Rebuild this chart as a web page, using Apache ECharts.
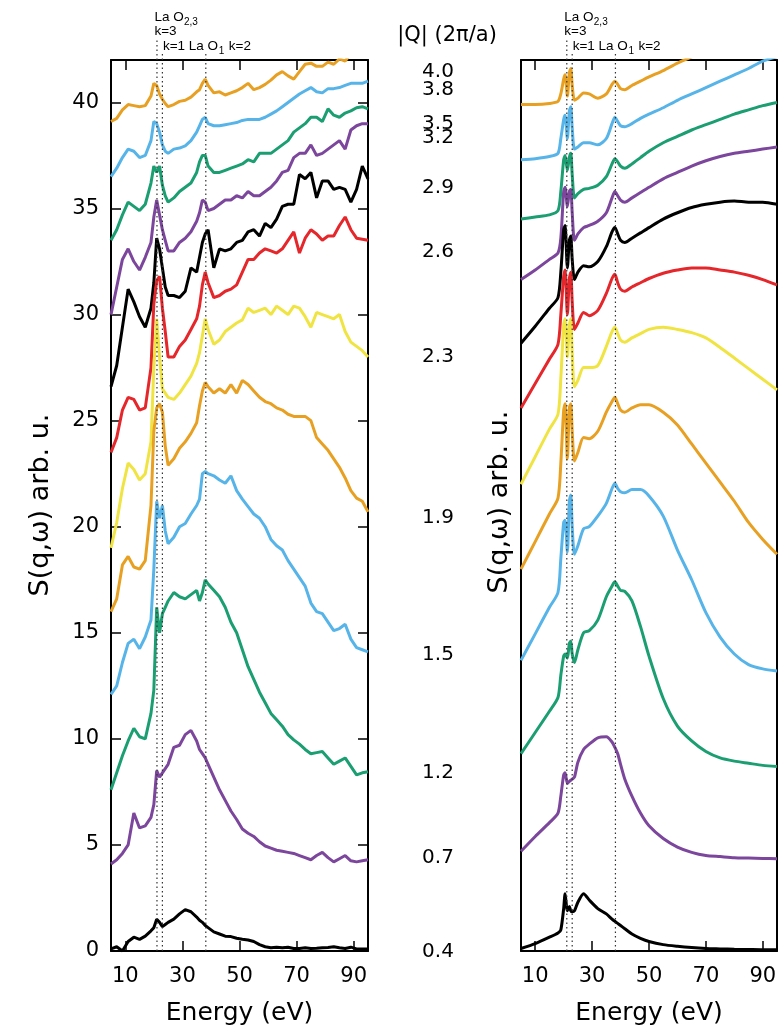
<html>
<head>
<meta charset="utf-8" />
<script src="https://cdn.jsdelivr.net/npm/echarts@6/dist/echarts.min.js"></script>
<style>
  body { margin: 0; background: #fff; }
  #main { width: 782px; height: 1032px; }
</style>
</head>
<body>
<div id="main"></div>
<script>
// ---- data: measured spectra (left) ----
var expE = [5,7,9,11,13,15,17,19,20,21,22,23,24,25,27,29,31,33,35,36,37,38,39,41,43,45,47,49,51,53,55,57,59,61,63,65,67,69,71,73,75,77,79,81,83,85,87,89,91,93,95];
var exp40 = [39.1,39.25,39.65,39.9,39.85,39.8,39.85,40.3,40.9,40.8,40.4,40.15,39.95,39.8,39.9,40.05,40.1,40.25,40.5,40.6,40.9,41.1,40.8,40.45,40.5,40.35,40.45,40.55,40.7,40.9,40.6,40.7,40.85,41.05,41.3,41.45,41.25,41.1,41.45,41.8,41.85,41.7,41.7,41.9,41.8,42.05,41.95,42.3,42.6,42.9,43.2];
var exp38 = [36.5,36.9,37.4,37.8,37.7,37.4,37.5,38.2,39.1,39.0,38.6,38.0,37.7,37.6,37.8,37.85,37.95,38.2,38.6,38.9,39.2,39.3,39.0,38.9,38.9,38.95,39.0,39.05,39.15,39.2,39.2,39.2,39.3,39.45,39.6,39.8,40.0,40.2,40.4,40.55,40.7,40.5,40.45,40.65,40.65,40.7,40.8,40.9,40.9,40.9,41.0];
var exp35 = [33.5,34.0,34.7,35.3,35.1,34.9,35.2,36.2,37.0,36.7,37.0,36.1,35.6,35.3,35.5,35.8,36.0,36.2,36.7,37.2,37.5,37.5,37.0,36.7,36.7,36.8,36.9,37.0,37.1,37.3,37.2,37.6,37.6,37.6,37.8,38.0,38.2,38.6,38.8,39.0,39.3,39.3,39.1,39.7,39.4,39.3,39.5,39.6,39.75,39.8,39.7];
var exp32 = [30.0,31.3,32.6,33.1,32.5,32.1,32.7,33.4,34.6,35.4,34.7,34.0,33.5,33.0,33.0,33.4,33.6,33.9,34.4,34.8,35.4,35.3,34.9,35.0,35.2,35.4,35.4,35.6,35.5,35.8,35.6,35.6,35.8,36.0,36.3,36.7,36.8,37.4,37.6,37.6,38.0,37.5,37.6,37.8,38.0,38.2,37.8,38.7,38.9,39.0,39.0];
var exp29 = [26.6,27.6,29.4,31.2,30.6,29.9,29.4,30.3,31.5,33.6,33.1,32.2,31.3,30.9,30.9,30.8,31.1,32.2,32.0,32.7,33.4,33.8,34.0,32.2,33.1,33.0,33.1,33.4,33.5,33.9,34.0,33.7,34.3,34.1,34.5,35.1,35.2,35.2,36.6,36.4,36.7,35.5,36.3,36.3,35.9,36.0,35.9,35.3,35.9,37.0,36.4];
var exp26 = [23.5,24.2,25.5,26.1,26.0,25.5,25.6,27.5,30.5,31.6,31.8,30.3,29.2,28.0,28.0,28.5,28.8,29.3,29.8,30.4,31.4,32.0,31.5,30.8,30.9,31.1,31.2,31.4,32.0,32.6,32.6,32.9,33.1,33.0,32.9,33.1,33.5,33.9,32.9,33.6,34.0,33.8,33.5,33.7,33.7,34.2,34.6,34.0,33.6,33.55,33.5];
var exp23 = [19.0,20.2,21.8,23.0,22.7,22.2,22.5,24.0,27.5,29.8,28.0,26.5,26.3,26.1,26.0,26.3,26.7,27.1,27.7,28.2,29.0,29.8,29.3,28.6,28.8,29.2,29.4,29.6,29.75,30.3,30.1,30.2,30.3,30.0,30.4,30.2,30.0,30.4,30.3,29.9,29.4,30.1,30.0,29.9,29.8,30.0,29.2,28.7,28.5,28.3,28.0];
var exp19 = [16.0,16.6,18.2,18.6,18.1,18.0,18.4,21.0,24.5,25.6,25.8,25.4,23.8,22.9,23.2,23.7,24.0,24.4,24.9,25.7,26.4,26.8,26.6,26.3,26.5,26.3,26.7,26.3,26.9,26.7,26.4,26.1,25.9,25.8,25.6,25.5,25.3,25.2,25.2,25.2,25.0,24.2,23.9,23.6,23.2,22.8,22.3,21.7,21.35,21.2,20.7];
var exp15 = [12.1,12.5,13.6,14.5,14.7,14.25,14.8,15.6,18.0,21.2,20.4,21.0,19.8,19.2,19.5,20.0,20.15,20.6,21.0,21.3,22.5,22.6,22.5,22.4,22.2,22.05,22.4,21.7,21.3,20.95,20.6,20.4,20.0,19.4,19.1,18.9,18.4,18.0,17.6,17.2,16.4,16.0,15.9,15.5,15.1,15.2,15.4,14.7,14.3,14.2,14.1];
var exp12 = [7.6,8.4,9.2,9.9,10.5,10.1,10.0,11.2,12.3,16.2,15.0,15.9,16.2,16.5,16.9,16.7,16.6,16.8,17.0,16.5,16.9,17.5,17.3,17.0,16.7,16.2,15.5,15.0,14.2,13.4,12.8,12.2,11.7,11.2,10.9,10.6,10.2,9.95,9.75,9.5,9.3,9.35,9.4,9.1,8.8,8.95,9.1,8.7,8.3,8.4,8.45];
var exp07 = [4.1,4.3,4.6,5.0,6.5,5.8,5.9,6.3,6.9,8.5,8.2,8.4,8.6,8.8,9.6,9.7,10.2,10.4,9.9,9.5,9.3,9.1,8.8,8.2,7.6,7.1,6.6,6.2,5.75,5.55,5.4,5.15,4.95,4.85,4.75,4.7,4.65,4.6,4.5,4.4,4.3,4.5,4.65,4.4,4.2,4.35,4.5,4.25,4.2,4.25,4.3];
var exp04 = [0.1,0.2,0.0,0.45,0.65,0.55,0.7,0.95,1.1,1.5,1.35,1.15,1.25,1.35,1.5,1.75,1.95,1.85,1.6,1.45,1.35,1.2,1.1,0.9,0.8,0.7,0.68,0.6,0.55,0.52,0.45,0.3,0.2,0.15,0.18,0.15,0.18,0.12,0.12,0.15,0.12,0.13,0.15,0.17,0.2,0.15,0.12,0.18,0.1,0.1,0.1];

// ---- data: calculated spectra (right) ----
var calcE = [5,10,15,18,19,20,20.5,21.3,22,22.5,23,23.8,25,27,29,32,35,37,38,39,40,41.5,44,47,50,55,60,65,70,75,80,85,90,95];
var calc40 = [39.9,39.9,39.95,40.05,40.4,41.1,41.3,40.3,41.4,41.6,40.8,40.1,40.2,40.45,40.4,40.2,40.4,40.85,41.0,40.85,40.65,40.6,40.8,41.0,41.2,41.5,41.85,42.15,42.45,42.75,43.05,43.35,43.65,43.95];
var calc38 = [37.3,37.35,37.45,37.6,38.3,39.2,39.4,38.3,39.6,39.8,38.8,37.8,37.9,38.1,38.1,38.0,38.3,39.0,39.3,39.1,38.9,38.85,39.0,39.25,39.45,39.75,40.1,40.4,40.7,41.0,41.3,41.6,41.95,42.15];
var calc35 = [34.5,34.6,34.7,34.9,35.8,37.3,37.5,36.8,37.4,37.6,36.6,35.5,35.7,35.9,35.95,36.1,36.5,37.1,37.35,37.2,37.0,36.9,37.1,37.4,37.7,38.1,38.4,38.7,38.95,39.2,39.45,39.65,39.85,40.0];
var calc32 = [31.65,32.1,32.6,32.9,33.6,35.8,36.0,35.1,35.8,35.9,34.8,33.5,33.8,34.1,34.2,34.4,34.8,35.5,35.8,35.6,35.4,35.3,35.5,35.75,36.0,36.4,36.7,37.0,37.25,37.45,37.6,37.7,37.8,37.9];
var calc29 = [28.65,29.45,30.3,30.8,32.0,34.0,34.2,32.2,33.5,33.7,32.6,31.65,32.0,32.3,32.25,32.5,33.2,33.9,34.1,33.8,33.5,33.4,33.6,33.85,34.1,34.5,34.8,35.05,35.2,35.3,35.35,35.3,35.3,35.2];
var calc26 = [25.6,26.75,27.9,28.6,30.0,31.8,32.1,30.0,31.7,32.0,30.6,29.3,29.6,30.1,29.95,30.2,31.0,31.7,31.9,31.5,31.2,31.1,31.3,31.5,31.7,31.95,32.1,32.2,32.2,32.1,32.0,31.85,31.65,31.4];
var calc23 = [22.0,23.3,24.6,25.3,27.0,29.5,29.8,28.0,29.5,29.8,28.2,26.6,26.9,27.5,27.5,27.6,28.5,29.2,29.4,29.1,28.8,28.7,28.9,29.1,29.3,29.4,29.3,29.15,28.9,28.45,27.95,27.45,26.95,26.45];
var calc19 = [18.0,19.3,20.6,21.35,23.0,25.5,25.8,23.2,25.6,25.8,24.5,23.1,23.5,24.2,24.15,24.5,25.4,25.9,26.1,25.8,25.5,25.4,25.6,25.75,25.75,25.4,24.8,23.9,23.0,22.1,21.2,20.2,19.4,18.7];
var calc15 = [13.7,14.95,16.2,16.9,18.5,20.2,20.3,18.8,21.2,21.5,20.0,18.7,19.1,19.9,20.0,20.5,21.1,21.8,22.05,21.8,21.65,21.6,21.75,21.75,21.45,20.5,18.9,17.5,15.95,14.8,14.0,13.5,13.3,13.2];
var calc12 = [9.3,10.3,11.3,11.95,13.0,13.9,14.0,13.8,14.5,14.6,14.0,13.6,14.2,15.0,15.1,15.6,16.7,17.2,17.4,17.2,17.0,16.95,16.5,15.3,13.9,11.9,10.6,9.9,9.4,9.1,8.95,8.85,8.75,8.7];
var calc07 = [4.7,5.4,6.05,6.5,7.3,8.3,8.4,7.9,8.0,8.05,8.1,8.2,8.9,9.5,9.75,10.05,10.1,9.85,9.6,9.3,8.8,8.1,7.3,6.5,5.9,5.3,4.9,4.65,4.5,4.45,4.4,4.38,4.36,4.35];
var calc04 = [0.12,0.35,0.65,0.85,1.0,2.0,2.7,1.9,2.1,1.9,1.85,1.9,2.3,2.7,2.4,2.0,1.75,1.5,1.4,1.3,1.2,1.05,0.8,0.6,0.45,0.3,0.22,0.16,0.12,0.1,0.08,0.07,0.06,0.06];

var qLabels = ['4.0','3.8','3.5','3.2','2.9','2.6','2.3','1.9','1.5','1.2','0.7','0.4'];
var edgeE = [21.1, 23.0, 38.2];
var xTicks = [10, 30, 50, 70, 90];
var yTicks = [0, 5, 10, 15, 20, 25, 30, 35, 40];

// ---- styles / layout ----
var expSets = [exp40, exp38, exp35, exp32, exp29, exp26, exp23, exp19, exp15, exp12, exp07, exp04];
var calcSets = [calc40, calc38, calc35, calc32, calc29, calc26, calc23, calc19, calc15, calc12, calc07, calc04];
var ORANGE = '#E8A022', BLUE = '#56B4E9', GREEN = '#1A9E72', PURPLE = '#7B469C',
    BLACK = '#000000', RED = '#E5262A', YELLOW = '#F0E442';
var colors = [ORANGE, BLUE, GREEN, PURPLE, BLACK, RED, YELLOW, ORANGE, BLUE, GREEN, PURPLE, BLACK];
var qLabelY = [72, 90, 124, 138, 188, 252, 357, 518, 655, 773, 858, 952];
var edgeOvershoot = [22, 9, 9];
var FONT = 'DejaVu Sans';
var NOTE_FONT = 'Liberation Sans';
var yMax = 42;

function pairs(xs, ys) {
    return xs.map(function (x, i) { return [x, ys[i]]; });
}

var axisLine = { show: true, onZero: false, lineStyle: { color: '#000', width: 2 } };
var tickStyle = { color: '#000', width: 1.5 };

function xAx(grid, pos, labels) {
    var a = {
        gridIndex: grid, type: 'value', min: 5, max: 95, position: pos,
        axisLine: axisLine,
        axisTick: { show: true, inside: true, length: 10, customValues: xTicks, lineStyle: tickStyle },
        axisLabel: { show: labels, customValues: xTicks, margin: 15, fontSize: 21, fontFamily: FONT, color: '#000' },
        splitLine: { show: false }
    };
    if (labels) {
        a.name = 'Energy (eV)';
        a.nameLocation = 'middle';
        a.nameGap = 50;
        a.nameTextStyle = { fontSize: 25, fontFamily: FONT, color: '#000' };
    }
    return a;
}

function yAx(grid, pos, ticks, labels) {
    return {
        gridIndex: grid, type: 'value', min: 0, max: yMax, position: pos,
        axisLine: axisLine,
        axisTick: { show: ticks, inside: true, length: 10, customValues: yTicks, lineStyle: tickStyle },
        axisLabel: { show: labels, customValues: yTicks, margin: 12, fontSize: 21, fontFamily: FONT, color: '#000' },
        splitLine: { show: false }
    };
}

var series = [];
expSets.forEach(function (ys, i) {
    series.push({
        type: 'line', xAxisIndex: 0, yAxisIndex: 0, data: pairs(expE, ys),
        showSymbol: false, lineStyle: { color: colors[i], width: 3 }, itemStyle: { color: colors[i] }
    });
});
calcSets.forEach(function (ys, i) {
    series.push({
        type: 'line', xAxisIndex: 2, yAxisIndex: 2, data: pairs(calcE, ys),
        showSymbol: false, smooth: 0.25, lineStyle: { color: colors[i], width: 3 }, itemStyle: { color: colors[i] }
    });
});

function edgeSeries(xi, yi) {
    return {
        type: 'custom', xAxisIndex: xi, yAxisIndex: yi, clip: false, silent: true, z: 5,
        encode: { x: 0, y: 1 },
        data: edgeE.map(function (e) { return [e, 0]; }),
        renderItem: function (params, api) {
            var x = api.value(0);
            var b = api.coord([x, 0]);
            var t = api.coord([x, yMax]);
            return {
                type: 'line',
                shape: { x1: b[0], y1: b[1], x2: t[0], y2: t[1] - edgeOvershoot[params.dataIndex] },
                style: { stroke: '#333', lineWidth: 1.2, lineDash: [1.5, 3] }
            };
        }
    };
}
series.push(edgeSeries(0, 0));
series.push(edgeSeries(2, 2));

var option = {
    animation: false,
    backgroundColor: '#fff',
    grid: [
        { left: 111, top: 60, width: 257, height: 891 },
        { left: 521, top: 60, width: 256, height: 891 }
    ],
    xAxis: [xAx(0, 'bottom', true), xAx(0, 'top', false), xAx(1, 'bottom', true), xAx(1, 'top', false)],
    yAxis: [yAx(0, 'left', true, true), yAx(0, 'right', true, false), yAx(1, 'left', false, false), yAx(1, 'right', false, false)],
    series: series
};

var myChart = echarts.init(document.getElementById('main'));
myChart.setOption(option);

// ---- text annotations ----
var graphics = [];
function txt(x, y, s, size, family, extra) {
    var el = {
        type: 'text', x: x, y: y, silent: true,
        style: { text: s, fontSize: size, fontFamily: family, fill: '#000', align: 'left', verticalAlign: 'middle' }
    };
    if (extra) { for (var k in extra) { el.style[k] = extra[k]; } }
    return el;
}
[[0, 0], [2, 2]].forEach(function (ax) {
    var f = { xAxisIndex: ax[0], yAxisIndex: ax[1] };
    var p1 = myChart.convertToPixel(f, [edgeE[0], yMax])[0];
    var p2 = myChart.convertToPixel(f, [edgeE[1], yMax])[0];
    var p3 = myChart.convertToPixel(f, [edgeE[2], yMax])[0];
    graphics.push(txt(p1 - 2.5, 17, 'La O', 13.5, NOTE_FONT));
    graphics.push(txt(p1 + 27, 22, '2,3', 10, NOTE_FONT));
    graphics.push(txt(p1 - 2.5, 31, 'k=3', 13.5, NOTE_FONT));
    graphics.push(txt(p2 + 0.5, 46, 'k=1', 13.5, NOTE_FONT));
    graphics.push(txt(p3 - 17, 46, 'La O', 13.5, NOTE_FONT));
    graphics.push(txt(p3 + 13, 51, '1', 10, NOTE_FONT));
    graphics.push(txt(p3 + 23, 46, 'k=2', 13.5, NOTE_FONT));
});
graphics.push(txt(447, 36, '|Q| (2\u03c0/a)', 21, FONT, { align: 'center' }));
qLabels.forEach(function (q, i) {
    graphics.push(txt(438, qLabelY[i], q, 20, FONT, { align: 'center' }));
});
[[41, 505], [500, 502]].forEach(function (p) {
    graphics.push({
        type: 'text', x: p[0], y: p[1], rotation: Math.PI / 2, silent: true,
        style: { text: 'S(q,\u03c9) arb. u.', fontSize: 27, fontFamily: FONT, fill: '#000', align: 'center', verticalAlign: 'middle' }
    });
});
myChart.setOption({ graphic: graphics });
</script>
</body>
</html>
